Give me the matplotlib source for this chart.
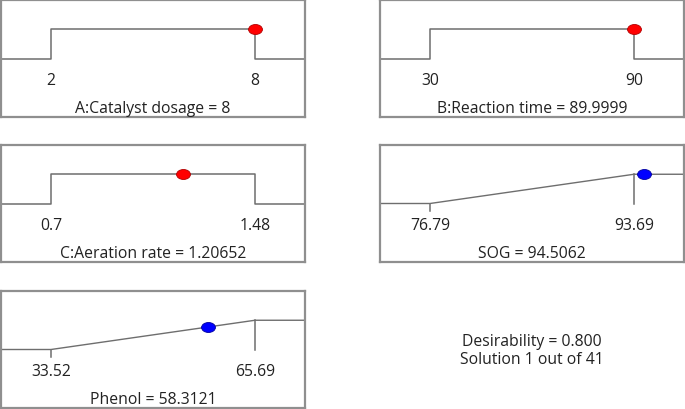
import matplotlib
matplotlib.use("Agg")
import matplotlib.pyplot as plt
import numpy as np
from matplotlib.path import Path

plt.rcParams["font.family"] = ["Open Sans", "DejaVu Sans"]

# factors (step desirability, "in range")
factor_names = ["A:Catalyst dosage", "B:Reaction time", "C:Aeration rate"]
factor_lows = [2, 30, 0.7]
factor_highs = [8, 90, 1.48]
factor_values = [8, 89.9999, 1.20652]
factor_value_text = ["8", "89.9999", "1.20652"]
factor_low_text = ["2", "30", "0.7"]
factor_high_text = ["8", "90", "1.48"]

# responses (ramp desirability, maximize)
resp_names = ["SOG", "Phenol"]
resp_lows = [76.79, 33.52]
resp_highs = [93.69, 65.69]
resp_values = [94.5062, 58.3121]
resp_value_text = ["94.5062", "58.3121"]
resp_low_text = ["76.79", "33.52"]
resp_high_text = ["93.69", "65.69"]

desirability = 0.800
solution_no = 1
solution_total = 41

W, H = 685, 410
LINE = "#6e6e6e"
EDGE = "#8f8f8f"
TXT = "#222222"
FS = 11.3
MARGIN = 0.245

ell = Path(Path.unit_circle().vertices * np.array([1.0, 0.72]), Path.unit_circle().codes)


def make_ax(fig, x0, y0, x1, y1):
    ax = fig.add_axes([x0 / W, 1 - y1 / H, (x1 - x0) / W, (y1 - y0) / H])
    ax.set_xticks([])
    ax.set_yticks([])
    for s in ax.spines.values():
        s.set_color(EDGE)
        s.set_linewidth(1.6)
    ax.set_ylim(-2, 2)
    return ax


def set_x(ax, lo, hi):
    span = hi - lo
    xmin, xmax = lo - MARGIN * span, hi + MARGIN * span
    ax.set_xlim(xmin, xmax)
    return xmin, xmax


def labels(ax, lo, hi, lo_t, hi_t, title):
    ax.text(lo, -0.72, lo_t, ha="center", va="center", fontsize=FS, color=TXT)
    ax.text(hi, -0.72, hi_t, ha="center", va="center", fontsize=FS, color=TXT)
    ax.text(0.5, 0.08, title, transform=ax.transAxes, ha="center", va="center",
            fontsize=FS, color=TXT)


def factor_panel(ax, i):
    lo, hi, v = factor_lows[i], factor_highs[i], factor_values[i]
    xmin, xmax = set_x(ax, lo, hi)
    ax.plot([xmin, lo, lo, hi, hi, xmax], [0, 0, 1, 1, 0, 0], color=LINE, lw=1.1)
    ax.plot([v], [1], marker=ell, ms=10, color="#ff0000", mec="#b00000", mew=0.6, zorder=5)
    labels(ax, lo, hi, factor_low_text[i], factor_high_text[i],
           f"{factor_names[i]} = {factor_value_text[i]}")


def resp_panel(ax, i):
    lo, hi, v = resp_lows[i], resp_highs[i], resp_values[i]
    xmin, xmax = set_x(ax, lo, hi)
    ax.plot([xmin, lo, hi, xmax], [0, 0, 1, 1], color=LINE, lw=1.0)
    ax.plot([hi, hi], [1, 0], color=LINE, lw=1.1)
    ax.plot([lo, lo], [0, -0.27], color=LINE, lw=1.1)
    d = min(max((v - lo) / (hi - lo), 0), 1)
    ax.plot([v], [d], marker=ell, ms=10, color="#0000ff", mec="#0000a0", mew=0.6, zorder=5)
    labels(ax, lo, hi, resp_low_text[i], resp_high_text[i],
           f"{resp_names[i]} = {resp_value_text[i]}")


fig = plt.figure(figsize=(W / 100, H / 100), dpi=100)

cols = [(1, 305), (380, 684)]
rows = [(1, 118), (146, 263), (292, 409)]

factor_panel(make_ax(fig, cols[0][0], rows[0][0], cols[0][1], rows[0][1]), 0)
factor_panel(make_ax(fig, cols[1][0], rows[0][0], cols[1][1], rows[0][1]), 1)
factor_panel(make_ax(fig, cols[0][0], rows[1][0], cols[0][1], rows[1][1]), 2)
resp_panel(make_ax(fig, cols[1][0], rows[1][0], cols[1][1], rows[1][1]), 0)
resp_panel(make_ax(fig, cols[0][0], rows[2][0], cols[0][1], rows[2][1]), 1)

fig.text(532 / W, 1 - 351 / H,
         f"Desirability = {desirability:.3f}\nSolution {solution_no} out of {solution_total}",
         ha="center", va="center", fontsize=FS, color=TXT, linespacing=1.2)

fig.savefig("out.png", dpi=100)
